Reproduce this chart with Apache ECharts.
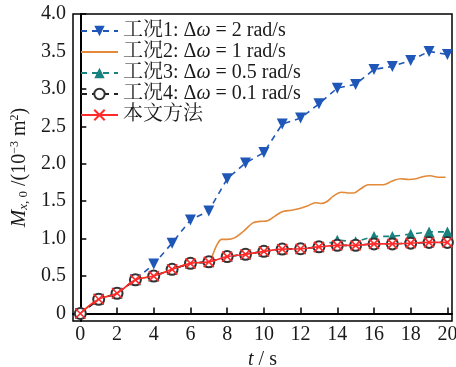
<!DOCTYPE html>
<html>
<head>
<meta charset="utf-8">
<script src="https://cdn.jsdelivr.net/npm/echarts@6/dist/echarts.min.js"></script>
<style>
  html, body { margin: 0; padding: 0; background: #fff; }
  #chart { width: 456px; height: 367px; }
</style>
</head>
<body>
<div id="chart"></div>
<script>
// time samples (s)
const tSteps = [0, 1, 2, 3, 4, 5, 6, 7, 8, 9, 10, 11, 12, 13, 14, 15, 16, 17, 18, 19, 20];

// 工况1: Δω = 2 rad/s
const case1 = [0, 0.19, 0.27, 0.45, 0.66, 0.94, 1.25, 1.37, 1.80, 2.01, 2.15, 2.53, 2.61, 2.80, 3.01, 3.06, 3.26, 3.30, 3.38, 3.50, 3.46];

// 工况2: Δω = 1 rad/s (dense trace)
const case2T = [0, 1, 2, 3, 4, 5, 6, 7, 7.2, 7.45, 7.7, 8.0, 8.4, 8.9, 9.4, 9.8, 10.2, 10.6, 11.0, 11.5, 11.9, 12.4, 12.8, 13.1, 13.4, 13.8, 14.2, 14.6, 14.9, 15.3, 15.7, 16.1, 16.5, 17.0, 17.45, 17.9, 18.3, 18.7, 19.05, 19.5, 19.9];
const case2V = [0, 0.19, 0.27, 0.45, 0.50, 0.59, 0.67, 0.69, 0.78, 0.92, 0.99, 0.99, 1.01, 1.10, 1.21, 1.23, 1.24, 1.30, 1.36, 1.38, 1.40, 1.44, 1.48, 1.47, 1.49, 1.57, 1.62, 1.61, 1.61, 1.67, 1.72, 1.72, 1.72, 1.77, 1.80, 1.79, 1.80, 1.83, 1.84, 1.82, 1.82];

// 工况3: Δω = 0.5 rad/s
const case3 = [0, 0.19, 0.27, 0.45, 0.50, 0.59, 0.67, 0.69, 0.76, 0.79, 0.83, 0.86, 0.865, 0.89, 0.98, 0.96, 1.03, 1.03, 1.06, 1.09, 1.09];

// 工况4: Δω = 0.1 rad/s
const case4 = [0, 0.19, 0.27, 0.45, 0.50, 0.59, 0.67, 0.69, 0.76, 0.79, 0.83, 0.86, 0.865, 0.89, 0.91, 0.91, 0.93, 0.93, 0.94, 0.95, 0.95];

// 本文方法
const proposed = [0, 0.19, 0.27, 0.45, 0.50, 0.59, 0.67, 0.69, 0.76, 0.79, 0.83, 0.86, 0.865, 0.89, 0.91, 0.91, 0.93, 0.93, 0.94, 0.95, 0.95];

const xTicks = [0, 2, 4, 6, 8, 10, 12, 14, 16, 18, 20];
const yTicks = [0, 0.5, 1.0, 1.5, 2.0, 2.5, 3.0, 3.5, 4.0];

const seriesNames = ['c1', 'c2', 'c3', 'c4', 'ours'];
const legendText = {
  c1: '{a|工况1: Δ}{w|ω}{a| = 2 rad/s}',
  c2: '{a|工况2: Δ}{w|ω}{a| = 1 rad/s}',
  c3: '{a|工况3: Δ}{w|ω}{a| = 0.5 rad/s}',
  c4: '{a|工况4: Δ}{w|ω}{a| = 0.1 rad/s}',
  ours: '{a|本文方法}'
};

const FONT = '"Liberation Serif", "Noto Serif CJK SC", "Noto Sans CJK SC", serif';
const INK = '#1a1a1a';

const pairs = (xs, ys) => xs.map((x, i) => [x, ys[i]]);
const crossPath = 'path://M0,0L10,10M10,0L0,10';

const chart = echarts.init(document.getElementById('chart'), null, { renderer: 'canvas' });

chart.setOption({
  animation: false,
  backgroundColor: '#fff',
  textStyle: { fontFamily: FONT, color: INK },
  grid: {
    left: 73, top: 14, right: 4, bottom: 46,
    containLabel: false,
    outerBoundsMode: 'none',
    show: true, borderColor: '#000', borderWidth: 1.5, backgroundColor: 'transparent'
  },
  legend: {
    data: [
      { name: 'c1' },
      { name: 'c2', itemStyle: { opacity: 0 } },
      { name: 'c3' },
      { name: 'c4' },
      { name: 'ours' }
    ],
    left: 80, top: 21,
    orient: 'vertical',
    padding: 0,
    itemGap: 1,
    itemWidth: 37,
    itemHeight: 13,
    formatter: name => legendText[name],
    textStyle: {
      fontFamily: FONT, color: INK, fontSize: 20,
      rich: {
        a: { fontFamily: FONT, fontSize: 20, color: INK },
        w: { fontFamily: FONT, fontSize: 20, fontStyle: 'italic', color: INK }
      }
    }
  },
  xAxis: {
    type: 'value',
    min: -0.4, max: 20.25,
    name: '{i|t}{n| / s}',
    nameLocation: 'middle',
    nameGap: 26,
    nameTextStyle: {
      rich: {
        i: { fontFamily: FONT, fontSize: 20, fontStyle: 'italic', color: INK },
        n: { fontFamily: FONT, fontSize: 20, color: INK }
      }
    },
    axisLine: { lineStyle: { color: '#000', width: 2 } },
    axisTick: { inside: true, length: 6, lineStyle: { color: '#000', width: 1.5 }, customValues: xTicks },
    axisLabel: { customValues: xTicks, fontFamily: FONT, fontSize: 20, color: INK, margin: 4 },
    splitLine: { show: false }
  },
  yAxis: {
    type: 'value',
    min: -0.1, max: 4.0,
    name: '{m|M}{si|x}{s|, 0}{n| /(10}{p|−3}{n| m}{p|2}{n|)}',
    nameLocation: 'middle',
    nameRotate: 90,
    nameGap: 40,
    nameTextStyle: {
      rich: {
        m: { fontFamily: FONT, fontSize: 21, fontStyle: 'italic', color: INK },
        si: { fontFamily: FONT, fontSize: 13, fontStyle: 'italic', color: INK, verticalAlign: 'bottom' },
        s: { fontFamily: FONT, fontSize: 13, color: INK, verticalAlign: 'bottom' },
        n: { fontFamily: FONT, fontSize: 20, color: INK },
        p: { fontFamily: FONT, fontSize: 12, color: INK, verticalAlign: 'top' }
      }
    },
    axisLine: { show: true, lineStyle: { color: '#000', width: 2 } },
    axisTick: { inside: true, length: 6, lineStyle: { color: '#000', width: 1.5 }, customValues: yTicks },
    axisLabel: {
      customValues: yTicks,
      fontFamily: FONT, fontSize: 20, color: INK, margin: 7,
      formatter: v => (v === 0 ? '0' : v.toFixed(1))
    },
    splitLine: { show: false }
  },
  series: [
    {
      name: 'c1', type: 'line',
      data: pairs(tSteps, case1),
      symbol: 'triangle', symbolRotate: 180, symbolSize: 11,
      itemStyle: { color: '#1f57b8' },
      lineStyle: { color: '#1f57b8', width: 1.6, type: [6, 5] },
      z: 2
    },
    {
      name: 'c2', type: 'line',
      data: pairs(case2T, case2V),
      smooth: 0.35,
      showSymbol: false, symbol: 'none',
      itemStyle: { color: '#e3893a' },
      lineStyle: { color: '#e3893a', width: 1.6 },
      z: 2
    },
    {
      name: 'c3', type: 'line',
      data: pairs(tSteps, case3),
      symbol: 'triangle', symbolSize: 11,
      itemStyle: { color: '#17827e' },
      lineStyle: { color: '#17827e', width: 1.6, type: [6, 5] },
      z: 3
    },
    {
      name: 'c4', type: 'line',
      data: pairs(tSteps, case4),
      symbol: 'circle', symbolSize: 11,
      itemStyle: { color: '#fff', borderColor: '#333', borderWidth: 2 },
      lineStyle: { color: '#222', width: 1.6, type: [6, 5] },
      z: 4
    },
    {
      name: 'ours', type: 'line',
      data: pairs(tSteps, proposed),
      smooth: 0.4,
      symbol: crossPath, symbolSize: 10,
      itemStyle: { color: '#ff2a2a', borderColor: '#ff2a2a', borderWidth: 1.6 },
      lineStyle: { color: '#ff2a2a', width: 1.6 },
      z: 5
    }
  ]
});
</script>
</body>
</html>
